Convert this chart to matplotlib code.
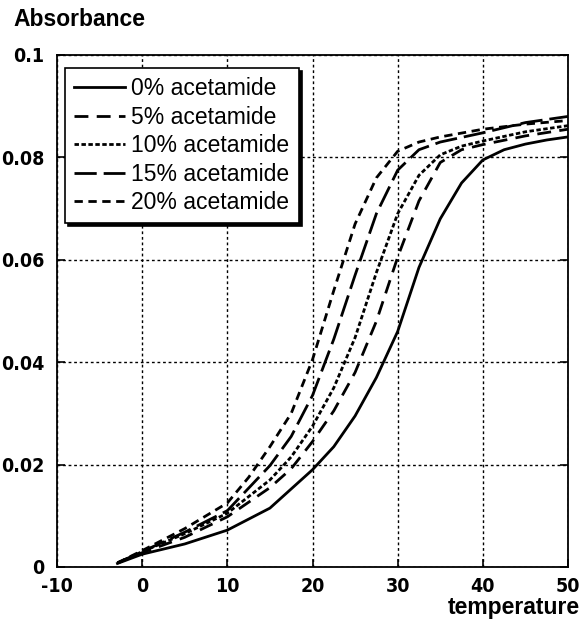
import matplotlib
matplotlib.use("Agg")
import matplotlib.pyplot as plt

plt.rcParams["axes.unicode_minus"] = False

# ---- data ----
t_0 = [-2.9, 0, 5, 10, 15, 20, 22.5, 25, 27.5, 30, 32.5, 35, 37.5, 40, 42.5, 45, 47.5, 50]
a_0 = [0.0007, 0.0025, 0.0045, 0.0072, 0.0115, 0.019, 0.0235, 0.0295, 0.037, 0.046, 0.0585,
       0.068, 0.075, 0.0795, 0.0815, 0.0826, 0.0834, 0.0840]

t_5 = [-2.9, 0, 5, 10, 15, 17.5, 20, 22.5, 25, 27.5, 30, 32.5, 35, 37.5, 40, 45, 50]
a_5 = [0.0008, 0.0028, 0.0058, 0.0098, 0.0155, 0.0192, 0.0245, 0.0305, 0.0380, 0.0480,
       0.0605, 0.0715, 0.0790, 0.0815, 0.0825, 0.0842, 0.0855]

t_10 = [-2.9, 0, 5, 10, 15, 17.5, 20, 22.5, 25, 27.5, 30, 32.5, 35, 37.5, 40, 45, 50]
a_10 = [0.0008, 0.0030, 0.0065, 0.0105, 0.0170, 0.0215, 0.0275, 0.0350, 0.0448, 0.0575,
        0.0690, 0.0765, 0.0805, 0.0822, 0.0832, 0.0850, 0.0862]

t_15 = [-2.9, 0, 5, 10, 15, 17.5, 20, 22.5, 25, 27.5, 30, 32.5, 35, 40, 45, 50]
a_15 = [0.0008, 0.0030, 0.0068, 0.0110, 0.0198, 0.0255, 0.0335, 0.0445, 0.0570, 0.0690,
        0.0775, 0.0815, 0.0830, 0.0848, 0.0868, 0.0880]

t_20 = [-2.9, 0, 5, 10, 12.5, 15, 17.5, 20, 22.5, 25, 27.5, 30, 32.5, 35, 40, 45, 50]
a_20 = [0.0008, 0.0032, 0.0075, 0.0125, 0.0175, 0.0235, 0.0300, 0.0405, 0.0540, 0.0670,
        0.0760, 0.0812, 0.0830, 0.0840, 0.0855, 0.0865, 0.0872]

labels = ["0% acetamide", "5% acetamide", "10% acetamide", "15% acetamide", "20% acetamide"]
x_ticks = [-10, 0, 10, 20, 30, 40, 50]
y_ticks = [0, 0.02, 0.04, 0.06, 0.08, 0.1]
y_tick_labels = ["0", "0.02", "0.04", "0.06", "0.08", "0.1"]

series = [(t_0, a_0), (t_5, a_5), (t_10, a_10), (t_15, a_15), (t_20, a_20)]
styles = ["-", (0, (5, 3)), (0, (1.6, 0.9)), (0, (8, 2.5)), (0, (3, 2))]

fig = plt.figure(figsize=(5.84, 6.3), dpi=100)
ax = fig.add_axes([57 / 584, 1 - 567 / 630, (568 - 57) / 584, (567 - 55) / 630])

for (t, a), ls, lab in zip(series, styles, labels):
    ax.plot(t, a, color="black", lw=2.0, linestyle=ls, label=lab)

ax.set_xlim(-10, 50)
ax.set_ylim(0, 0.1)
ax.set_xticks(x_ticks)
ax.set_yticks(y_ticks)
ax.set_yticklabels(y_tick_labels)
ax.grid(True, color="black", linestyle=(0, (2, 2)), linewidth=1.0)
ax.tick_params(direction="in", length=6, width=1.2, top=False, right=True,
               labelsize=14)
ax.tick_params(axis="x", pad=7)
ax.tick_params(axis="y", pad=9)
for lab in ax.get_xticklabels() + ax.get_yticklabels():
    lab.set_fontfamily("DejaVu Sans")
    lab.set_fontstretch("condensed")
    lab.set_fontweight("bold")
for sp in ax.spines.values():
    sp.set_linewidth(1.3)
    sp.set_color("black")

fig.text(13 / 584, 1 - 20 / 630, "Absorbance", fontsize=16.5, fontweight="bold",
         family="Liberation Sans", va="center", ha="left")
fig.text(580 / 584, 1 - 614 / 630, "temperature", fontsize=16.5, fontweight="bold",
         family="Liberation Sans", va="baseline", ha="right")

leg = ax.legend(loc="upper left", bbox_to_anchor=(8 / 511, 1 - 13 / 512),
                prop={"family": "Liberation Sans", "size": 16.5},
                frameon=True, fancybox=False, shadow={"color": "black", "alpha": 1},
                handlelength=2.2, handletextpad=0.3, labelspacing=0.24,
                borderpad=0.4, borderaxespad=0.0)
leg.get_frame().set_edgecolor("black")
leg.get_frame().set_linewidth(1.2)
leg.get_frame().set_alpha(1)

fig.savefig("out.png", dpi=100)
